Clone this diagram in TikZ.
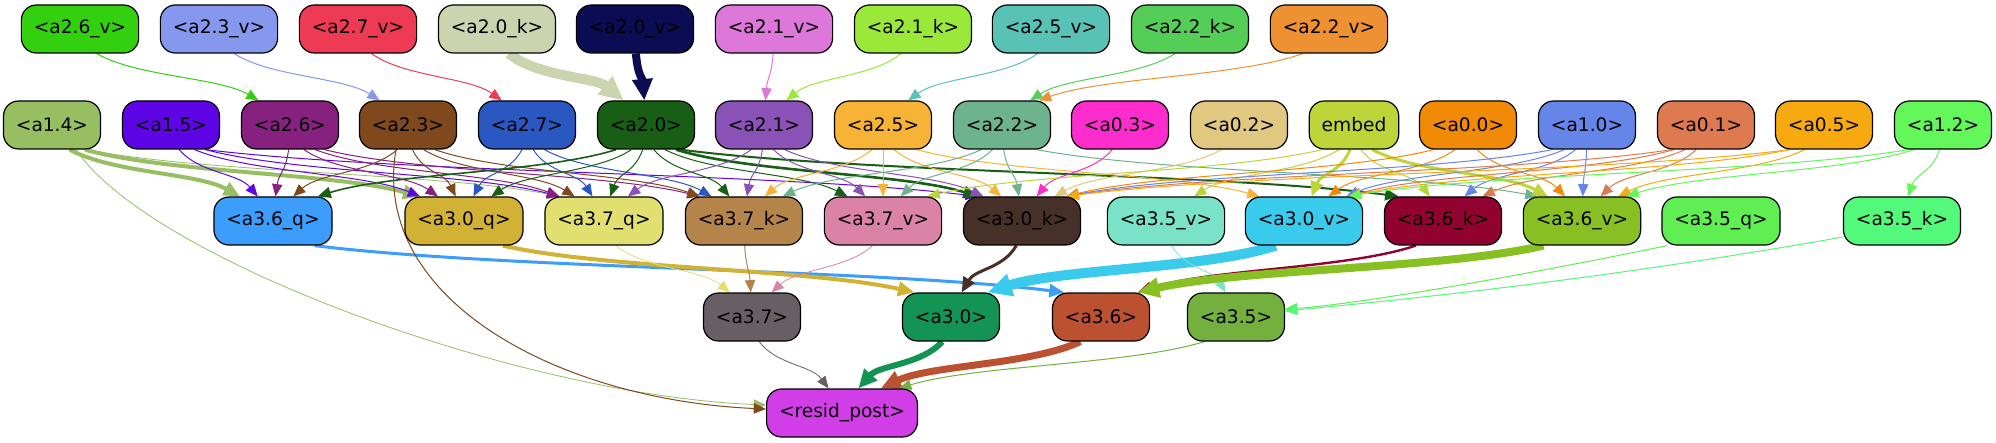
\documentclass[tikz,border=0pt]{standalone}
\usepackage{fontspec}
\setmainfont{DejaVu Sans}
\usetikzlibrary{arrows.meta,calc}
\pgfdeclarelayer{bg}\pgfsetlayers{bg,main}
\definecolor{c26v}{HTML}{33D00F}\definecolor{c23v}{HTML}{8598EE}\definecolor{c27v}{HTML}{EF3A55}
\definecolor{c20k}{HTML}{CBD4AE}\definecolor{c20v}{HTML}{0C0C55}\definecolor{c21v}{HTML}{DE77DA}
\definecolor{c21k}{HTML}{9AE83A}\definecolor{c25v}{HTML}{58C2B7}\definecolor{c22k}{HTML}{55CE58}
\definecolor{c22v}{HTML}{ED9132}
\definecolor{c14}{HTML}{97BF61}\definecolor{c15}{HTML}{5E05E6}\definecolor{c26}{HTML}{862180}
\definecolor{c23}{HTML}{7F481D}\definecolor{c27}{HTML}{2A58C0}\definecolor{c20}{HTML}{185E15}
\definecolor{c21}{HTML}{8A52B6}\definecolor{c25}{HTML}{F7B335}\definecolor{c22}{HTML}{6DB38C}
\definecolor{c03}{HTML}{FD2CCC}\definecolor{c02}{HTML}{E0C880}\definecolor{cemb}{HTML}{BED53A}
\definecolor{c00}{HTML}{F08A07}\definecolor{c10}{HTML}{6585E8}\definecolor{c01}{HTML}{DE7A50}
\definecolor{c05}{HTML}{F6AA10}\definecolor{c12}{HTML}{63F75A}
\definecolor{c36q}{HTML}{3D9DFD}\definecolor{c30q}{HTML}{D2B235}\definecolor{c37q}{HTML}{E1DF70}
\definecolor{c37k}{HTML}{B4844A}\definecolor{c37v}{HTML}{DA83A7}\definecolor{c30k}{HTML}{473028}
\definecolor{c35v}{HTML}{7AE3C7}\definecolor{c30v}{HTML}{3ACAEC}\definecolor{c36k}{HTML}{920230}
\definecolor{c36v}{HTML}{88BF22}\definecolor{c35q}{HTML}{60EF52}\definecolor{c35k}{HTML}{52F97B}
\definecolor{c37}{HTML}{675F64}\definecolor{c30}{HTML}{139455}\definecolor{c36}{HTML}{BC5131}
\definecolor{c35}{HTML}{73B03D}\definecolor{crp}{HTML}{D13DE6}
\tikzset{
 nd/.style={draw=black, line width=0.6pt, rounded corners=7.5pt, minimum height=24pt,
   inner xsep=6.2pt, inner ysep=0pt, font=\fontsize{9.3pt}{11pt}\selectfont, text=black},
 edge/.style={line width=0.5pt, -{Triangle[length=5.5pt 1.3,width=4.5pt 1.3]}},
}
\newcommand\E[3][]{%
 \draw[edge,#1] let \p1=(#2.center),\p2=(#3.center),\p3=(#2.south),\p4=(#3.north),\p5=(#3.north east),\p6=(#2.south east),
 \n1={max(-0.7*(\x6-\x3),min(0.7*(\x6-\x3),0.08*(\x2-\x1)))},
 \n2={max(-0.75*(\x5-\x4),min(0.75*(\x5-\x4),0.15*(\x1-\x2)))},
 \n3={\x3+\n1},\n4={\x4+\n2}
 in ({\n3+0pt},\y3) .. controls ({\n3+0.25*(\n4-\n3)+0pt},{0.5*(\y3+\y4)}) and ({\n4-0.25*(\n4-\n3)+0pt},{0.5*(\y3+\y4)}) .. ({\n4+0pt},\y4);}
\begin{document}
\begin{tikzpicture}[x=0.5pt,y=-0.5pt]
\begin{pgfonlayer}{bg}
\fill[white] (0,0) rectangle (1996,443);
\end{pgfonlayer}
\useasboundingbox (0,0) rectangle (1996,443);
% row 1
\node[nd,fill=c26v] (a26v) at (80,29) {<a2.6\_v>};
\node[nd,fill=c23v] (a23v) at (219,29) {<a2.3\_v>};
\node[nd,fill=c27v] (a27v) at (358,29) {<a2.7\_v>};
\node[nd,fill=c20k] (a20k) at (497,29) {<a2.0\_k>};
\node[nd,fill=c20v] (a20v) at (635,29) {<a2.0\_v>};
\node[nd,fill=c21v] (a21v) at (774,29) {<a2.1\_v>};
\node[nd,fill=c21k] (a21k) at (913,29) {<a2.1\_k>};
\node[nd,fill=c25v] (a25v) at (1051,29) {<a2.5\_v>};
\node[nd,fill=c22k] (a22k) at (1190,29) {<a2.2\_k>};
\node[nd,fill=c22v] (a22v) at (1329,29) {<a2.2\_v>};
% row 2
\node[nd,fill=c14] (a14) at (52,125) {<a1.4>};
\node[nd,fill=c15] (a15) at (171,125) {<a1.5>};
\node[nd,fill=c26] (a26) at (290,125) {<a2.6>};
\node[nd,fill=c23] (a23) at (408,125) {<a2.3>};
\node[nd,fill=c27] (a27) at (527,125) {<a2.7>};
\node[nd,fill=c20] (a20) at (646,125) {<a2.0>};
\node[nd,fill=c21] (a21) at (764,125) {<a2.1>};
\node[nd,fill=c25] (a25) at (883,125) {<a2.5>};
\node[nd,fill=c22] (a22) at (1002,125) {<a2.2>};
\node[nd,fill=c03] (a03) at (1120,125) {<a0.3>};
\node[nd,fill=c02] (a02) at (1239,125) {<a0.2>};
\node[nd,fill=cemb] (emb) at (1354,125) {embed};
\node[nd,fill=c00] (a00) at (1468,125) {<a0.0>};
\node[nd,fill=c10] (a10) at (1587,125) {<a1.0>};
\node[nd,fill=c01] (a01) at (1706,125) {<a0.1>};
\node[nd,fill=c05] (a05) at (1824,125) {<a0.5>};
\node[nd,fill=c12] (a12) at (1943,125) {<a1.2>};
% row 3
\node[nd,fill=c36q] (a36q) at (273,221) {<a3.6\_q>};
\node[nd,fill=c30q] (a30q) at (464,221) {<a3.0\_q>};
\node[nd,fill=c37q] (a37q) at (604,221) {<a3.7\_q>};
\node[nd,fill=c37k] (a37k) at (744,221) {<a3.7\_k>};
\node[nd,fill=c37v] (a37v) at (883,221) {<a3.7\_v>};
\node[nd,fill=c30k] (a30k) at (1022,221) {<a3.0\_k>};
\node[nd,fill=c35v] (a35v) at (1166,221) {<a3.5\_v>};
\node[nd,fill=c30v] (a30v) at (1304,221) {<a3.0\_v>};
\node[nd,fill=c36k] (a36k) at (1443,221) {<a3.6\_k>};
\node[nd,fill=c36v] (a36v) at (1582,221) {<a3.6\_v>};
\node[nd,fill=c35q] (a35q) at (1721,221) {<a3.5\_q>};
\node[nd,fill=c35k] (a35k) at (1902,221) {<a3.5\_k>};
% row 4
\node[nd,fill=c37] (a37) at (752,317) {<a3.7>};
\node[nd,fill=c30] (a30) at (951,317) {<a3.0>};
\node[nd,fill=c36] (a36) at (1101,317) {<a3.6>};
\node[nd,fill=c35] (a35) at (1236,317) {<a3.5>};
\node[nd,fill=crp] (rp) at (842,413) {<resid\_post>};
\begin{pgfonlayer}{bg}
\E[c26v]{a26v}{a26}
\E[c23v]{a23v}{a23}
\E[c27v]{a27v}{a27}
\E[c20k,line width=5pt]{a20k}{a20}
\E[c20v,line width=4pt]{a20v}{a20}
\E[c21v]{a21v}{a21}
\E[c21k]{a21k}{a21}
\E[c25v]{a25v}{a25}
\E[c22k]{a22k}{a22}
\E[c22v]{a22v}{a22}
% row 2 -> row 3
\E[c14,line width=2pt]{a14}{a36q}
\E[c14,line width=2pt]{a14}{a30q}
\E[c14,line width=0.4pt]{a14}{a37q}
\E[c15]{a15}{a36q}
\E[c15]{a15}{a30q}
\E[c15]{a15}{a37q}
\E[c15]{a15}{a30k}
\E[c26]{a26}{a36q}
\E[c26]{a26}{a30q}
\E[c26]{a26}{a37q}
\E[c26]{a26}{a37k}
\E[c23]{a23}{a36q}
\E[c23]{a23}{a30q}
\E[c23]{a23}{a37q}
\E[c23]{a23}{a37k}
\E[c27]{a27}{a30q}
\E[c27]{a27}{a37q}
\E[c27]{a27}{a37k}
\E[c20,line width=0.8pt]{a20}{a36q}
\E[c20]{a20}{a30q}
\E[c20]{a20}{a37q}
\E[c20]{a20}{a37k}
\E[c20]{a20}{a37v}
\E[c20,line width=1.3pt]{a20}{a30k}
\E[c20,line width=1pt]{a20}{a36k}
\E[c21]{a21}{a37q}
\E[c21]{a21}{a37k}
\E[c21]{a21}{a37v}
\E[c21]{a21}{a30k}
\E[c25]{a25}{a37k}
\E[c25]{a25}{a37v}
\E[c25]{a25}{a30k}
\E[c25]{a25}{a30v}
\E[c22]{a22}{a37k}
\E[c22]{a22}{a37v}
\E[c22]{a22}{a30k}
\E[c22]{a22}{a36v}
\E[c03]{a03}{a30k}
\E[c02]{a02}{a30k}
\E[cemb]{emb}{a37v}
\E[cemb]{emb}{a35v}
\E[cemb,line width=1.5pt]{emb}{a30v}
\E[cemb]{emb}{a36k}
\E[cemb,line width=1.5pt]{emb}{a36v}
\E[c00]{a00}{a30k}
\E[c00]{a00}{a30v}
\E[c00]{a00}{a36v}
\E[c10]{a10}{a30k}
\E[c10]{a10}{a30v}
\E[c10]{a10}{a36k}
\E[c10]{a10}{a36v}
\E[c01]{a01}{a30k}
\E[c01]{a01}{a30v}
\E[c01]{a01}{a36k}
\E[c01]{a01}{a36v}
\E[c05]{a05}{a30k}
\E[c05]{a05}{a30v}
\E[c05]{a05}{a36v}
\E[c12]{a12}{a30v}
\E[c12]{a12}{a36v}
\E[c12]{a12}{a35k}
% row 3 -> row 4
\E[c36q,line width=1.5pt]{a36q}{a36}
\E[c30q,line width=2pt]{a30q}{a30}
\E[c37q,line width=0.4pt]{a37q}{a37}
\E[c37k]{a37k}{a37}
\E[c37v,line width=0.4pt]{a37v}{a37}
\E[c30k,line width=1.5pt]{a30k}{a30}
\E[c30v,line width=5pt]{a30v}{a30}
\E[c35v,line width=0.4pt]{a35v}{a35}
\E[c36k,line width=1.2pt]{a36k}{a36}
\E[c36v,line width=4pt]{a36v}{a36}
\draw[edge,c35q] ([xshift=3pt]a35q.south west) .. controls (1500,280) and (1350,305) .. ([yshift=4pt]a35.east);
\draw[edge,c35k] ([yshift=-8pt]a35k.west) .. controls (1600,280) and (1400,300) .. ([yshift=3pt]a35.east);
% row 4 -> resid
\E[c37,line width=0.4pt]{a37}{rp}
\E[c30,line width=3pt]{a30}{rp}
\E[c36,line width=3.5pt]{a36}{rp}
\E[c35]{a35}{rp}
\draw[edge,c14,line width=0.4pt] ([xshift=12pt]a14.south) .. controls (150,260) and (520,395) .. ([yshift=4pt]rp.west);
\draw[edge,c23] ([xshift=-6pt]a23.south) .. controls (370,300) and (560,400) .. ([yshift=2pt]rp.west);
\end{pgfonlayer}
\end{tikzpicture}
\end{document}
